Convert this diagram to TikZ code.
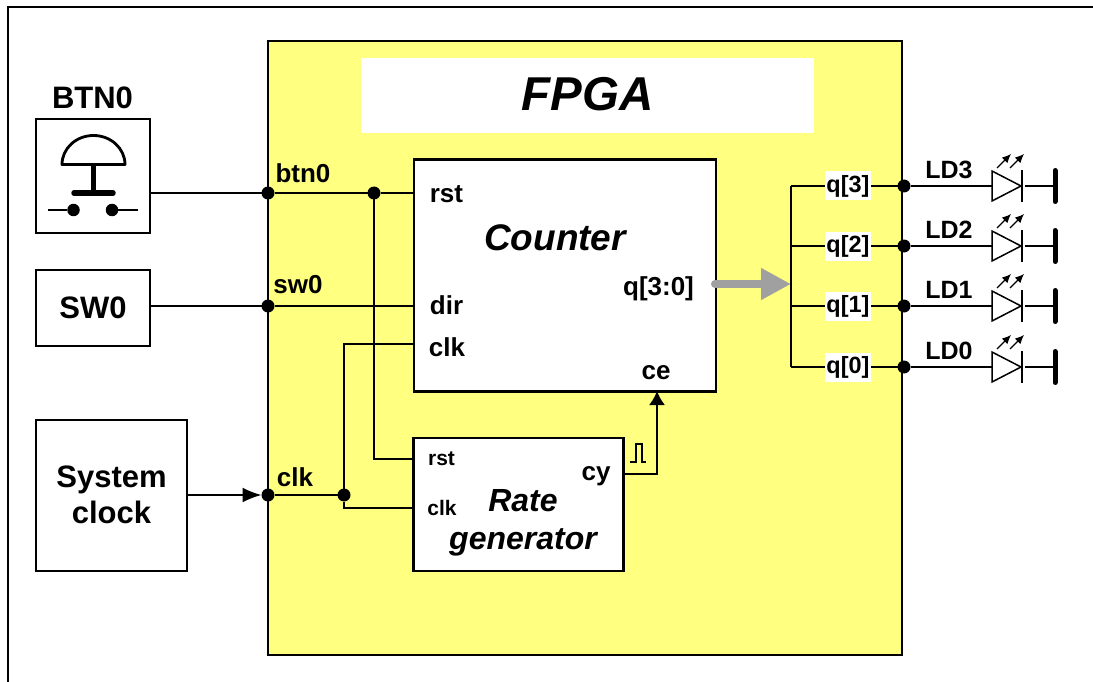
\documentclass[tikz,border=0pt]{standalone}
\usepackage{fontspec}
\setmainfont{Liberation Sans}
\usetikzlibrary{arrows.meta,calc}
\newcommand{\fsz}[1]{\fontsize{#1}{#1}\selectfont}
\definecolor{fpgayellow}{HTML}{FFFF80}
\definecolor{busgray}{HTML}{A0A0A0}
\tikzset{
  x=1pt,y=-1pt,
  box/.style={draw=black,fill=white,rectangle,inner sep=0pt,outer sep=0pt,line width=1.5pt},
  heavybox/.style={box,line width=2.8pt},
  wire/.style={draw=black,line width=1.8pt},
  dot/.style={circle,fill=black,inner sep=0pt,minimum size=13pt,outer sep=0pt},
  lbl/.style={inner sep=0pt,outer sep=0pt,font=\bfseries,text=black},
  ledbody/.style={draw=black,line width=1.5pt},
  ledray/.style={draw=black,line width=1.1pt,-{Latex[length=9pt,width=8pt]}},
  groundbar/.style={draw=black,line width=5pt,line cap=round},
}
\begin{document}
\begin{tikzpicture}
\useasboundingbox (0,0) rectangle (1093,682);
% outer frame
\coordinate (frameBL) at (8,682);
\coordinate (frameTL) at (8,7);
\coordinate (frameTR) at (1093,7);
\draw[black,line width=1.8pt] (frameBL) -- (frameTL) -- (frameTR);
% FPGA
\node[rectangle,draw=black,fill=fpgayellow,line width=1.2pt,inner sep=0pt,minimum width=634pt,minimum height=614pt] (fpga) at (585,348) {};
\node[rectangle,fill=white,inner sep=0pt,minimum width=453pt,minimum height=75pt] (title) at (587.5,95.5) {};
\node[lbl,font=\bfseries\itshape\fsz{47.5}] (titletext) at (587.5,94) {FPGA};
% outside boxes
\node[box,minimum width=114pt,minimum height=114pt] (btn) at (93,176) {};
\node[box,minimum width=114pt,minimum height=76pt] (sw) at (93,308) {};
\node[lbl,font=\bfseries\fsz{31}] (swtext) at (93,308) {SW0};
\node[box,minimum width=151pt,minimum height=151pt] (sys) at (111.5,495.5) {};
\node[lbl,font=\bfseries\fsz{31},align=center] (systext) at (111.5,495) {System\\[5pt]clock};
\node[lbl,font=\bfseries\fsz{31}] (btntext) at (92.5,98) {BTN0};
% push button symbol
\coordinate (capL) at (62,164.5);
\coordinate (capR) at (125,164.5);
\coordinate (stemT) at (93,164.5);
\coordinate (stemB) at (93,193);
\coordinate (barL) at (74,193);
\coordinate (barR) at (113,193);
\draw[black,line width=2.8pt,line join=round] (capL) arc[start angle=180,end angle=0,x radius=31.5pt,y radius=29pt] -- cycle;
\draw[black,line width=5pt] (stemT) -- (stemB);
\draw[black,line width=5.5pt,line cap=round] (barL) -- (barR);
\node[circle,fill=black,inner sep=0pt,minimum size=12.5pt] (swA) at (73.5,210) {};
\node[circle,fill=black,inner sep=0pt,minimum size=12.5pt] (swB) at (112,210) {};
\coordinate (swAend) at (48,210);
\coordinate (swBend) at (138,210);
\draw[black,line width=1.4pt] (swAend) -- (swA);
\draw[black,line width=1.4pt] (swB) -- (swBend);
% core boxes
\node[heavybox,minimum width=302pt,minimum height=232pt] (cnt) at (565,275.5) {};
\node[heavybox,minimum width=209.5pt,minimum height=133pt] (rate) at (518.5,504.5) {};
% junctions
\node[dot] (jbtn) at (268,193) {};
\node[dot] (jrst) at (374,193) {};
\node[dot] (jsw) at (268,306) {};
\node[dot] (jclk) at (268,495) {};
\node[dot] (jclk2) at (344,495) {};
\coordinate (cntclk) at (414,344);
\coordinate (rateclk) at (414,508);
\coordinate (raterst) at (414,459);
\coordinate (cyout) at (624,474);
\coordinate (cein) at (657,391);
% wires
\draw[wire] (btn.east |- jbtn) -- (jbtn) -- (jrst) -- (cnt.west |- jrst);
\draw[wire] (sw.east |- jsw) -- (jsw) -- (cnt.west |- jsw);
\draw[wire] (jrst) |- (raterst);
\draw[wire,-{Latex[length=19pt,width=15pt]}] (sys.east |- jclk) -- (jclk);
\draw[wire] (jclk) -- (jclk2);
\draw[wire] (cntclk) -| (jclk2) |- (rateclk);
\draw[wire,-{Latex[length=14pt,width=16pt]}] (cyout) -| (cein);
% pulse
\coordinate (pa) at (630,462);
\coordinate (pb) at (636,462);
\coordinate (pc) at (636,444);
\coordinate (pd) at (642,444);
\coordinate (pe) at (642,462);
\coordinate (pf) at (646,462);
\draw[black,line width=1.2pt] (pa) -- (pb) -- (pc) -- (pd) -- (pe) -- (pf);
% port labels
\node[lbl,font=\bfseries\fsz{26}] (lbtn) at (303,173) {btn0};
\node[lbl,font=\bfseries\fsz{26}] (lsw) at (298,285) {sw0};
\node[lbl,font=\bfseries\fsz{26}] (lclk) at (295,477) {clk};
\node[lbl,font=\bfseries\fsz{26}] (crst) at (446.5,194) {rst};
\node[lbl,font=\bfseries\fsz{26}] (cdir) at (446.5,305) {dir};
\node[lbl,font=\bfseries\fsz{26}] (cclk) at (447,347) {clk};
\node[lbl,font=\bfseries\fsz{26}] (cq) at (658.5,289) {q[3:0]};
\node[lbl,font=\bfseries\fsz{26}] (cce) at (656,373) {ce};
\node[lbl,font=\bfseries\itshape\fsz{37}] (ctext) at (555,238) {Counter};
\node[lbl,font=\bfseries\fsz{21}] (rrst) at (441.5,459) {rst};
\node[lbl,font=\bfseries\fsz{21}] (rclk) at (442,508) {clk};
\node[lbl,font=\bfseries\fsz{26}] (rcy) at (596,476) {cy};
\node[lbl,font=\bfseries\itshape\fsz{32},align=center] (rtext) at (523,522.5) {Rate\\[6pt]generator};
% bus
\coordinate (busS) at (715,284);
\coordinate (busE) at (791,284);
\draw[busgray,line width=8pt,line cap=round,-{Triangle[length=30pt,width=30pt]}] (busS) -- (busE);
\coordinate (busT) at (791,186);
\coordinate (busB) at (791,367);
\draw[wire] (busT) -- (busB);
% output rows
\foreach \i/\y/\nm in {3/186/a,2/246/b,1/306/c,0/367/d}{
  \coordinate (bus\nm) at (791,\y);
  \node[dot] (jout\nm) at (904,\y) {};
  \coordinate (ledin\nm) at (992,\y);
  \coordinate (ledtip\nm) at (1021,\y);
  \coordinate (ledup\nm) at (992,\y-15);
  \coordinate (leddn\nm) at (992,\y+15);
  \coordinate (barT\nm) at (1022,\y-16);
  \coordinate (barB\nm) at (1022,\y+16);
  \coordinate (ledout\nm) at (1025,\y);
  \coordinate (gnd\nm) at (1055,\y);
  \coordinate (gndT\nm) at (1055,\y-15.5);
  \coordinate (gndB\nm) at (1055,\y+15.5);
  \coordinate (r1s\nm) at (997,\y-18);
  \coordinate (r1e\nm) at (1011,\y-32);
  \coordinate (r2s\nm) at (1010,\y-18);
  \coordinate (r2e\nm) at (1024,\y-32);
  \draw[wire] (bus\nm) -- (jout\nm) -- (ledin\nm);
  \node[lbl,fill=white,font=\bfseries\fsz{23.5},inner xsep=1pt,minimum height=29pt] (q\nm) at (848,\y) {q[\i]};
  \node[lbl,font=\bfseries\fsz{25}] (ld\nm) at (949,\y-16) {LD\i};
  \draw[ledbody,line join=miter] (ledup\nm) -- (ledtip\nm) -- (leddn\nm) -- cycle;
  \draw[ledbody] (barT\nm) -- (barB\nm);
  \draw[wire] (ledout\nm) -- (gnd\nm);
  \draw[groundbar] (gndT\nm) -- (gndB\nm);
  \draw[ledray] (r1s\nm) -- (r1e\nm);
  \draw[ledray] (r2s\nm) -- (r2e\nm);
}
\end{tikzpicture}
\end{document}
